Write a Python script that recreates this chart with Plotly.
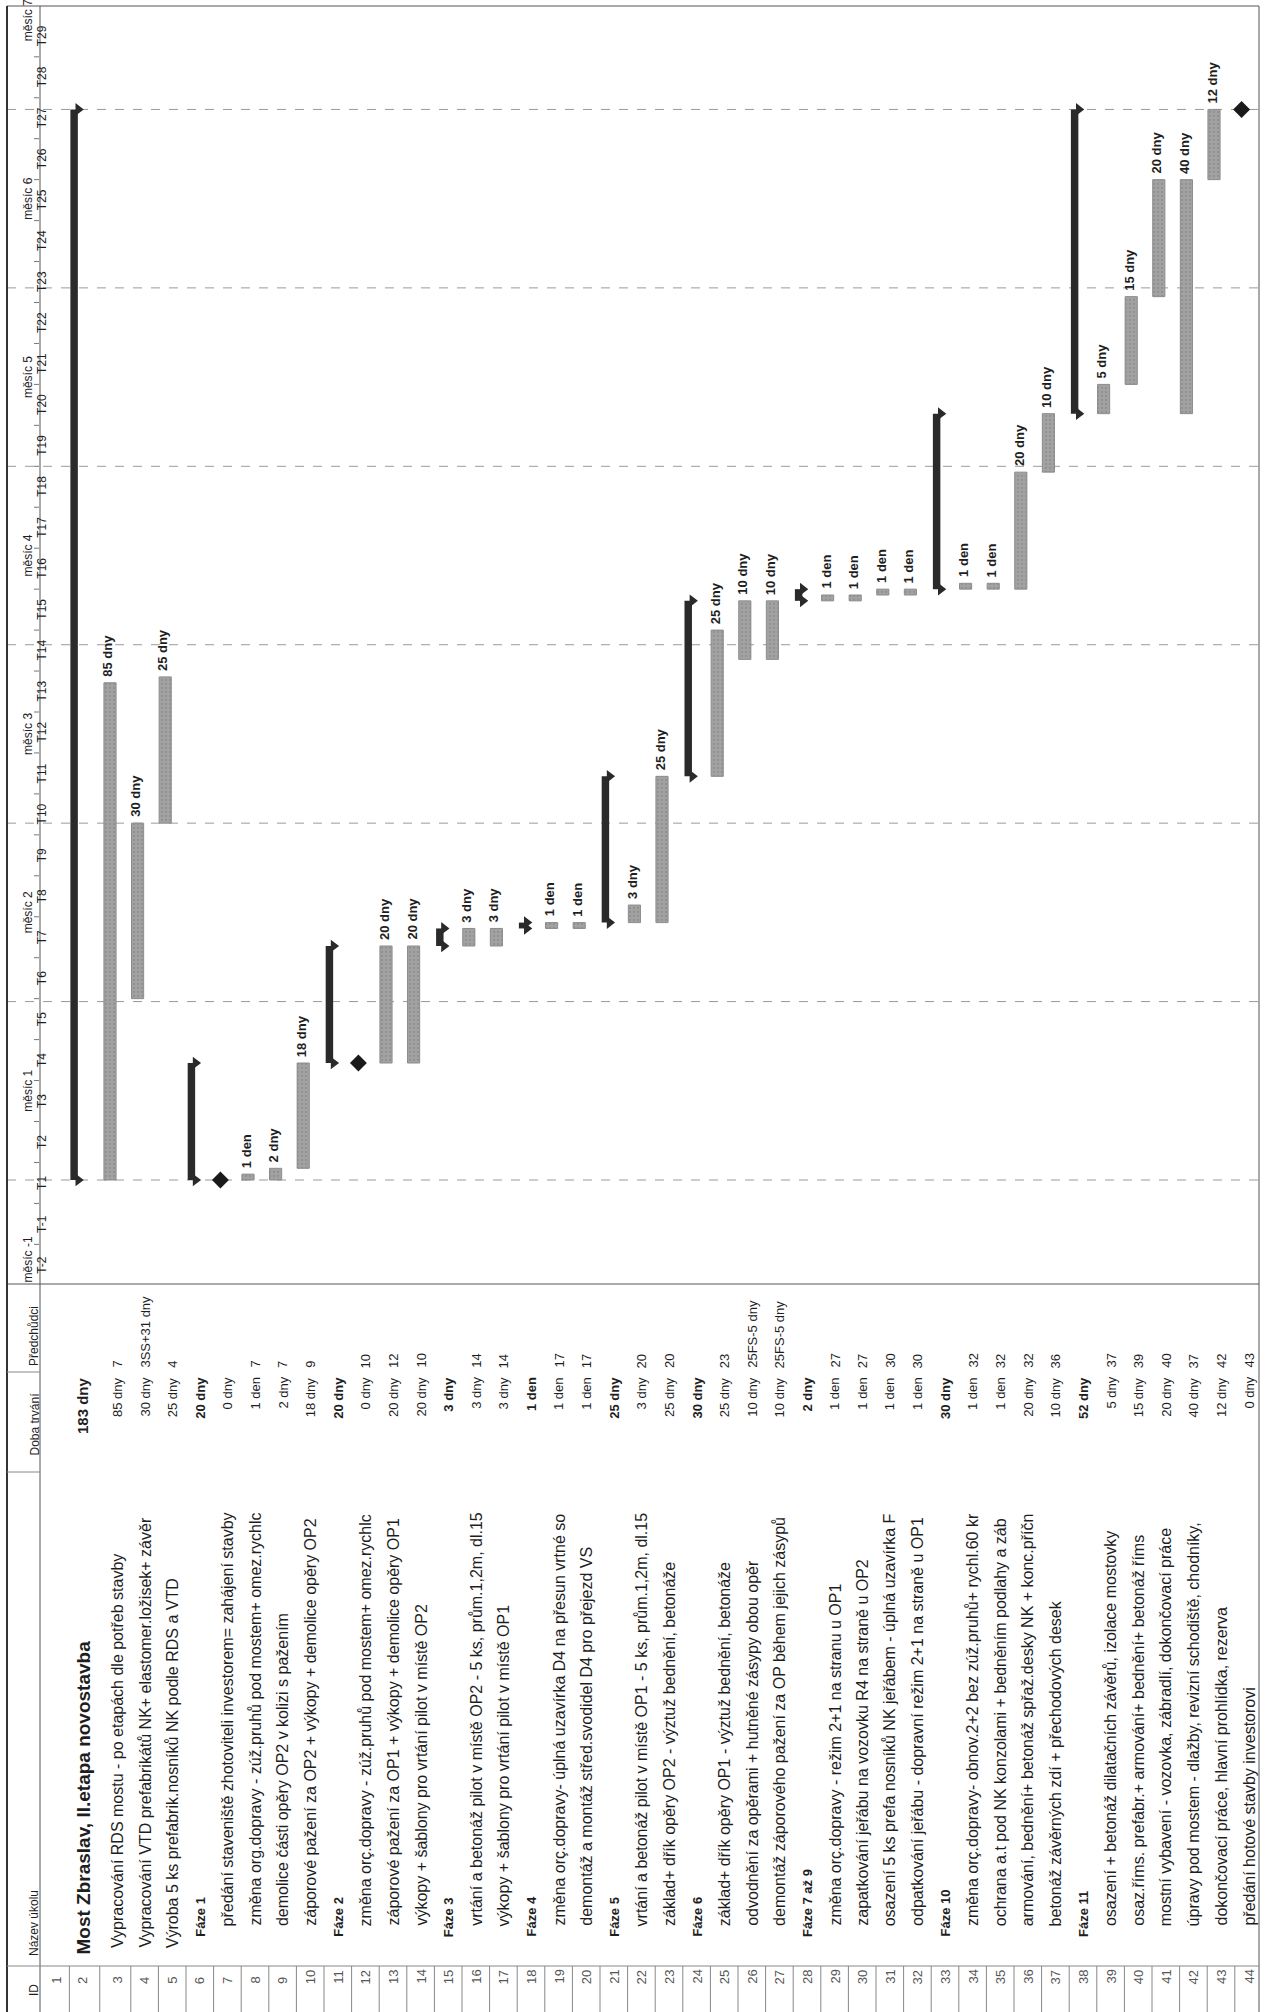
import plotly.graph_objects as go

# ---------------- data ----------------
ids = list(range(1, 45))
names = [
    "",
    "Most Zbraslav, II.etapa novostavba",
    "Vypracování RDS mostu - po etapách dle potřeb stavby",
    "Vypracování VTD prefabrikátů NK+ elastomer.ložisek+ závěr",
    "Výroba 5 ks prefabrik.nosníků NK podle RDS a VTD",
    "Fáze 1",
    "předání staveniště zhotoviteli investorem= zahájení stavby",
    "změna org.dopravy - zúž.pruhů pod mostem+ omez.rychlc",
    "demolice části opěry OP2 v kolizi s pažením",
    "záporové pažení za OP2 + výkopy + demolice opěry OP2",
    "Fáze 2",
    "změna orç.dopravy - zúž.pruhů pod mostem+ omez.rychlc",
    "záporové pažení za OP1 + výkopy + demolice opěry OP1",
    "výkopy + šablony pro vrtání pilot v místě OP2",
    "Fáze 3",
    "vrtání a betonáž pilot v místě OP2 - 5 ks, prům.1,2m, dl.15",
    "výkopy + šablony pro vrtání pilot v místě OP1",
    "Fáze 4",
    "změna orç.dopravy- úplná uzavírka D4 na přesun vrtné so",
    "demontáž a montáž střed.svodidel D4 pro přejezd VS",
    "Fáze 5",
    "vrtání a betonáž pilot v místě OP1 - 5 ks, prům.1,2m, dl.15",
    "základ+ dřík opěry OP2 - výztuž bednění, betonáže",
    "Fáze 6",
    "základ+ dřík opěry OP1 - výztuž bednění, betonáže",
    "odvodnění za opěrami + hutněné zásypy obou opěr",
    "demontáž záporového pažení za OP během jejich zásypů",
    "Fáze 7 až 9",
    "změna orç.dopravy - režim 2+1 na stranu u OP1",
    "zapatkování jeřábu na vozovku R4 na straně u OP2",
    "osazení 5 ks prefa nosníků NK jeřábem - úplná uzavírka F",
    "odpatkování jeřábu - dopravní režim 2+1 na straně u OP1",
    "Fáze 10",
    "změna orç.dopravy- obnov.2+2 bez zúž.pruhů+ rychl.60 kr",
    "ochrana a.t pod NK konzolami + bedněním podlahy a záb",
    "armování, bednění+ betonáž spřaž.desky NK + konc.příčn",
    "betonáž závěrných zdí + přechodových desek",
    "Fáze 11",
    "osazení + betonáž dilatačních závěrů, izolace mostovky",
    "osaz.říms. prefabr.+ armování+ bednění+ betonáž říms",
    "mostní vybavení - vozovka, zábradlí, dokončovací práce",
    "úpravy pod mostem - dlažby, revizní schodiště, chodníky,",
    "dokončovací práce, hlavní prohlídka, rezerva",
    "předání hotové stavby investorovi",
]
# durations in days (calendar days)
durations = [None, 183, 85, 30, 25, 20, 0, 1, 2, 18, 20, 0, 20, 20, 3, 3, 3, 1, 1, 1,
             25, 3, 25, 30, 25, 10, 10, 2, 1, 1, 1, 1, 30, 1, 1, 20, 10, 52, 5, 15,
             20, 40, 12, 0]
duration_labels = ["", "183 dny", "85 dny", "30 dny", "25 dny", "20 dny", "0 dny", "1 den",
                   "2 dny", "18 dny", "20 dny", "0 dny", "20 dny", "20 dny", "3 dny", "3 dny",
                   "3 dny", "1 den", "1 den", "1 den", "25 dny", "3 dny", "25 dny", "30 dny",
                   "25 dny", "10 dny", "10 dny", "2 dny", "1 den", "1 den", "1 den", "1 den",
                   "30 dny", "1 den", "1 den", "20 dny", "10 dny", "52 dny", "5 dny", "15 dny",
                   "20 dny", "40 dny", "12 dny", "0 dny"]
predecessors = ["", "", "7", "3SS+31 dny", "4", "", "", "7", "7", "9", "", "10", "12", "10",
                "", "14", "14", "", "17", "17", "", "20", "20", "", "23", "25FS-5 dny",
                "25FS-5 dny", "", "27", "27", "30", "30", "", "32", "32", "32", "36", "",
                "37", "39", "40", "37", "42", "43"]
# start day of each task, counted from the project start (day 0 = start of month 1)
starts = [None, 0, 0, 31, 61, 0, 0, 0, 0, 2, 20, 20, 20, 20, 40, 40, 40, 43, 43, 43,
          44, 44, 44, 69, 69, 89, 89, 99, 99, 99, 100, 100, 101, 101, 101, 101, 121, 131,
          131, 136, 151, 131, 171, 183]
# row type: B blank, P project summary, S summary (phase), T task, M milestone
kinds = ["B", "P", "T", "T", "T", "S", "M", "T", "T", "T", "S", "M", "T", "T", "S", "T",
         "T", "S", "T", "T", "S", "T", "T", "S", "T", "T", "T", "S", "T", "T", "T", "T",
         "S", "T", "T", "T", "T", "S", "T", "T", "T", "T", "T", "M"]

week_labels = ["T-2", "T-1"] + ["T%d" % i for i in range(1, 30)]
week_first_day = -18          # first visible week (T-2) starts here
week_len = 7
month_labels = ["měsíc -1", "měsíc 1", "měsíc 2", "měsíc 3", "měsíc 4", "měsíc 5",
                "měsíc 6", "měsíc 7"]
month_len = 30.5
month_first_day = -30.5

# ---------------- geometry helpers (layout only) ----------------
W, H = 1266, 2012
ROW3_PX, ROW_PX = 110.0, 27.6
DAY0_PY, DAY_PY = 1180.0, 5.85
GANTT_TOP, GANTT_BOT = 6, 1284
LEFT, HDR_R, RIGHT = 7, 40, 1259


def row_pos(i):
    if i >= 3:
        return float(i)
    return {1: 0.8, 2: 1.75}[i]


def px2row(px):
    return 3 + (px - ROW3_PX) / ROW_PX


def py2day(py):
    return (DAY0_PY - py) / DAY_PY


def fx(px):
    return px / W


def fy(py):
    return 1 - py / H


xpos = [row_pos(i) for i in ids]
TXT = "#1e1e1e"
FONT = "Liberation Sans, Arial, sans-serif"
DAY_LO, DAY_HI = py2day(GANTT_BOT), py2day(GANTT_TOP)

fig = go.Figure()

# task bars
t_idx = [k for k in range(44) if kinds[k] == "T"]
fig.add_trace(go.Bar(
    x=[xpos[k] for k in t_idx], y=[durations[k] for k in t_idx], base=[starts[k] for k in t_idx],
    width=0.44, marker=dict(color="#a2a2a2", line=dict(color="#8c8c8c", width=1),
                            pattern=dict(shape=".", fgcolor="#7d7d7d", size=4, solidity=0.25)),
    hoverinfo="skip", showlegend=False))

# summary bars
s_idx = [k for k in range(44) if kinds[k] in "PS"]
fig.add_trace(go.Bar(
    x=[xpos[k] - 0.05 for k in s_idx], y=[durations[k] for k in s_idx],
    base=[starts[k] for k in s_idx], width=0.27,
    marker=dict(color="#2a2a2a", line=dict(width=0)), hoverinfo="skip", showlegend=False))
cap_x, cap_y = [], []
for k in s_idx:
    cap_x += [xpos[k] + 0.1, xpos[k] + 0.1]
    cap_y += [starts[k], starts[k] + durations[k]]
fig.add_trace(go.Scatter(x=cap_x, y=cap_y, mode="markers",
                         marker=dict(symbol="triangle-right", size=11, color="#2a2a2a"),
                         hoverinfo="skip", showlegend=False))

# milestones
m_idx = [k for k in range(44) if kinds[k] == "M"]
fig.add_trace(go.Scatter(x=[xpos[k] for k in m_idx], y=[starts[k] for k in m_idx],
                         mode="markers",
                         marker=dict(symbol="diamond", size=13, color="#1a1a1a"),
                         hoverinfo="skip", showlegend=False))

annotations = []
# bar labels
for k in t_idx:
    annotations.append(dict(x=xpos[k], y=starts[k] + durations[k], xref="x", yref="y",
                            text="<b>%s</b>" % duration_labels[k], textangle=-90,
                            showarrow=False, yanchor="bottom", xanchor="center",
                            yshift=4, xshift=-2,
                            font=dict(family=FONT, size=13, color=TXT)))

shapes = []
# month grid lines
for i in range(len(month_labels) + 1):
    d = month_first_day + i * month_len
    if DAY_LO < d < DAY_HI:
        shapes.append(dict(type="line", xref="paper", yref="y", x0=fx(LEFT), x1=fx(RIGHT),
                           y0=d, y1=d, layer="below",
                           line=dict(color="#9a9a9a", width=1, dash="dash")))

# ---------------- timescale header ----------------
for i, lab in enumerate(month_labels):
    a = month_first_day + i * month_len
    c = a + month_len / 2
    c = min(max(c, DAY_LO + 4.2), DAY_HI)
    annotations.append(dict(x=fx(19), y=c, xref="paper", yref="y", text=lab, textangle=-90,
                            showarrow=False, font=dict(family=FONT, size=12, color=TXT)))
for i, lab in enumerate(week_labels):
    a = week_first_day + i * week_len
    annotations.append(dict(x=fx(33), y=a + week_len / 2, xref="paper", yref="y", text=lab,
                            textangle=-90, showarrow=False,
                            font=dict(family=FONT, size=12, color=TXT)))
    if i > 0:
        shapes.append(dict(type="line", xref="paper", yref="y", x0=fx(34), x1=fx(39),
                           y0=a, y1=a, line=dict(color="#777", width=1)))

# ---------------- table ----------------
TBL_SHIFT = 7
level_start = {"P": 1957, "T1": 1950, "S": 1939, "T2": 1928}
phase_seen = False
for k in range(44):
    if kinds[k] == "S":
        phase_seen = True
    if names[k]:
        if kinds[k] == "P":
            st, fnt = level_start["P"], dict(family=FONT, size=19, color=TXT)
            txt = "<b>%s</b>" % names[k]
        elif kinds[k] == "S":
            st, fnt = level_start["S"], dict(family=FONT, size=13, color=TXT)
            txt = "<b>%s</b>" % names[k]
        else:
            st = level_start["T2"] if phase_seen else level_start["T1"]
            fnt = dict(family=FONT, size=16, color=TXT)
            txt = names[k]
        annotations.append(dict(x=xpos[k], y=fy(st), xref="x", yref="paper", text=txt,
                                textangle=-90, showarrow=False, yanchor="bottom",
                                xanchor="center", xshift=TBL_SHIFT, font=fnt))
    if duration_labels[k]:
        bold = kinds[k] in "PS"
        annotations.append(dict(x=xpos[k], y=fy(1375), xref="x", yref="paper",
                                text=("<b>%s</b>" if bold else "%s") % duration_labels[k],
                                textangle=-90, showarrow=False, yanchor="top",
                                xanchor="center", xshift=TBL_SHIFT,
                                font=dict(family=FONT, size=15 if kinds[k] == "P" else 13,
                                          color=TXT)))
    if predecessors[k]:
        annotations.append(dict(x=xpos[k], y=fy(1370), xref="x", yref="paper",
                                text=predecessors[k], textangle=-90, showarrow=False,
                                yanchor="bottom", xanchor="center", xshift=TBL_SHIFT,
                                font=dict(family=FONT, size=13, color=TXT)))
    annotations.append(dict(x=xpos[k], y=fy(1986), xref="x", yref="paper", text=str(ids[k]),
                            textangle=-90, showarrow=False, xanchor="center",
                            xshift=TBL_SHIFT, font=dict(family=FONT, size=13, color="#555")))

for lab, py in [("ID", 1998), ("Název úkolu", 1958), ("Doba trvání", 1458),
                ("Předchůdci", 1368)]:
    annotations.append(dict(x=fx(25), y=fy(py), xref="paper", yref="paper", text=lab,
                            textangle=-90, showarrow=False, yanchor="bottom",
                            font=dict(family=FONT, size=12, color=TXT)))

LINE = dict(color="#555", width=1)
LIGHT = dict(color="#888", width=1)
shapes += [
    dict(type="line", xref="paper", yref="paper", x0=fx(LEFT), x1=fx(RIGHT),
         y0=fy(GANTT_TOP), y1=fy(GANTT_TOP), line=LINE),
    dict(type="line", xref="paper", yref="paper", x0=fx(LEFT), x1=fx(RIGHT),
         y0=fy(GANTT_BOT), y1=fy(GANTT_BOT), line=LINE),
    dict(type="line", xref="paper", yref="paper", x0=fx(LEFT), x1=fx(LEFT),
         y0=fy(GANTT_TOP), y1=fy(2012), line=dict(color="#333", width=2)),
    dict(type="line", xref="paper", yref="paper", x0=fx(HDR_R), x1=fx(HDR_R),
         y0=fy(GANTT_TOP), y1=fy(2012), line=LINE),
    dict(type="line", xref="paper", yref="paper", x0=fx(RIGHT), x1=fx(RIGHT),
         y0=fy(GANTT_TOP), y1=fy(2012), line=LINE),
    dict(type="line", xref="paper", yref="paper", x0=fx(LEFT), x1=fx(RIGHT), y0=fy(1966),
         y1=fy(1966), line=LIGHT),
]
for py in (1372, 1472):
    shapes.append(dict(type="line", xref="paper", yref="paper", x0=fx(LEFT), x1=fx(HDR_R),
                       y0=fy(py), y1=fy(py), line=LIGHT))
for k in range(43):
    b = (xpos[k] + xpos[k + 1]) / 2 + TBL_SHIFT / ROW_PX
    shapes.append(dict(type="line", xref="x", yref="paper", x0=b, x1=b,
                       y0=fy(1966), y1=fy(2012), line=LIGHT))

fig.update_layout(
    width=W, height=H, margin=dict(l=0, r=0, t=0, b=0),
    paper_bgcolor="white", plot_bgcolor="white",
    barmode="overlay", showlegend=False,
    xaxis=dict(range=[px2row(0), px2row(W)], domain=[0, 1], showgrid=False, zeroline=False,
               showticklabels=False, ticks="", fixedrange=True),
    yaxis=dict(range=[DAY_LO, DAY_HI], domain=[fy(GANTT_BOT), fy(GANTT_TOP)],
               showticklabels=False, ticks="", showgrid=False, zeroline=False),
    annotations=annotations, shapes=shapes,
)
fig.write_html(
    "out.html",
    config={"displayModeBar": False},
    post_script="document.body.style.margin='0px';"
                "document.body.style.overflow='hidden';"
                "document.documentElement.style.overflow='hidden';",
)
